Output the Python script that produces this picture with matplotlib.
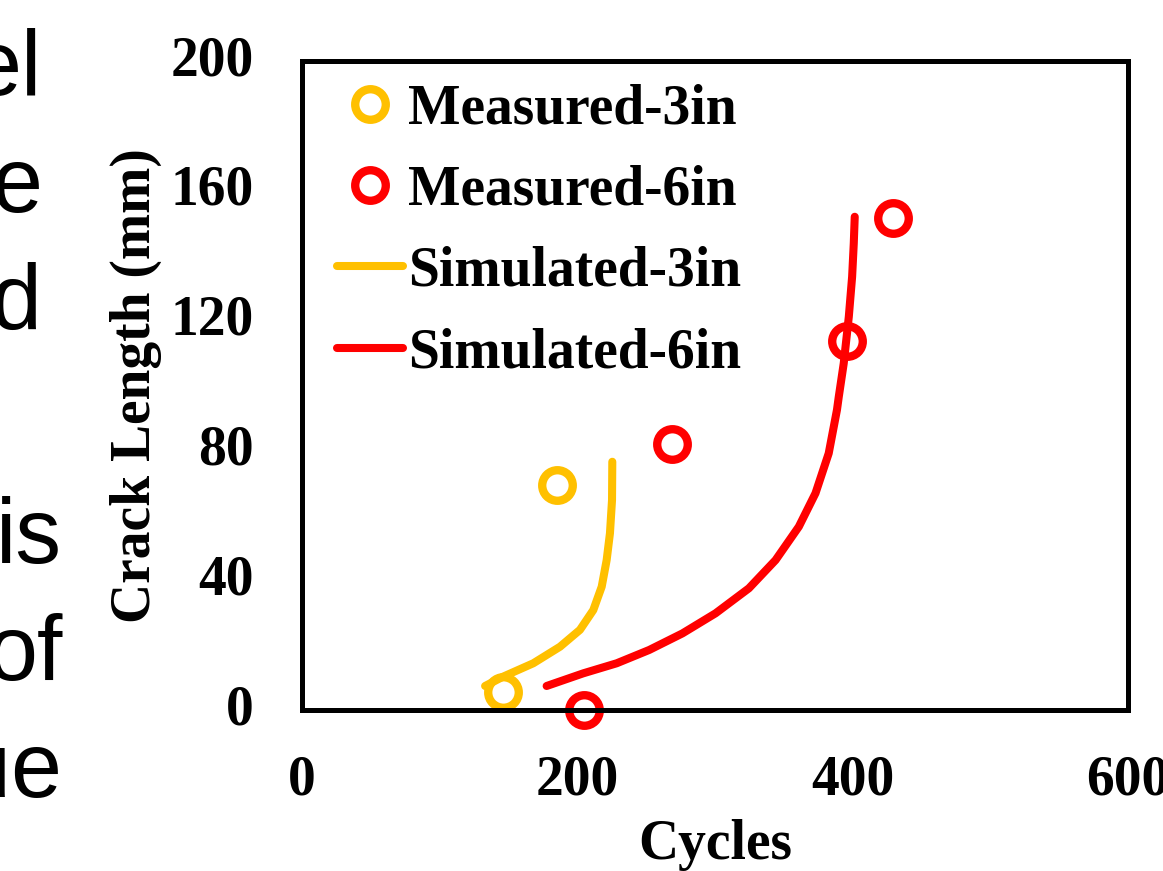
import numpy as np
import matplotlib
matplotlib.use("Agg")
import matplotlib.pyplot as plt

# measured crack length (mm) vs cycles
meas_3in_cycles = [146, 185]
meas_3in_crack = [5.5, 69.3]
meas_6in_cycles = [205, 269, 395.6, 429.5]
meas_6in_crack = [0, 82, 113.7, 151.7]

# simulated curves
sim_3in_cycles = [133, 146.2, 168, 187.4, 201.9, 211.6, 217.7, 221.3, 223.7, 225.2, 225.4]
sim_3in_crack = [7.4, 10.3, 14.4, 19.5, 24.7, 30.8, 38.0, 46.2, 54.5, 64.7, 76.5]
sim_6in_cycles = [177.7, 204.3, 228.6, 252.2, 276.3, 300.4, 324.6, 344.0, 360.9, 373.0,
                  382.6, 388.6, 389.9, 393.5, 397.2, 399.6, 400.8, 401.5]
sim_6in_crack = [7.4, 11.3, 14.4, 18.5, 23.6, 29.8, 37.5, 46.2, 56.5, 66.8,
                 79.1, 92.5, 96.5, 106.8, 121.2, 133.5, 143.8, 152.0]

x_ticks = [0, 200, 400, 600]
y_ticks = [0, 40, 80, 120, 160, 200]

# slide text cut off at the left edge
side_words = ["el", "e", "d", "", "is", "of", "ue"]
side_right_px = [41, 42, 41, 0, 62, 63, 62]

YELLOW = "#FFC000"
RED = "#FF0000"
W, H = 1163, 871
FS = 40

fig = plt.figure(figsize=(W / 100, H / 100), dpi=100)
ax = fig.add_axes([302 / W, 1 - 710 / H, (1128 - 302) / W, (710 - 61) / H])

serif = {"family": "Liberation Serif", "weight": "bold", "size": FS}

ax.plot(sim_3in_cycles, sim_3in_crack, color=YELLOW, lw=5.8, solid_capstyle="round",
        label="Simulated-3in", zorder=3)
ax.plot(sim_6in_cycles, sim_6in_crack, color=RED, lw=5.8, solid_capstyle="round",
        label="Simulated-6in", zorder=3)
ax.plot(meas_3in_cycles, meas_3in_crack, "o", ms=22, mfc="none", mec=YELLOW, mew=6,
        label="Measured-3in", clip_on=False, zorder=2)
ax.plot(meas_6in_cycles, meas_6in_crack, "o", ms=22, mfc="none", mec=RED, mew=6,
        label="Measured-6in", clip_on=False, zorder=2)

ax.set_xlim(0, 600)
ax.set_ylim(0, 200)
ax.set_xticks(x_ticks)
ax.set_yticks(y_ticks)
ax.tick_params(axis="x", length=0, pad=32)
ax.tick_params(axis="y", length=0, pad=35)
for lab in ax.get_xticklabels() + ax.get_yticklabels():
    lab.set_fontproperties(serif)
for lab in ax.get_yticklabels():
    lab.set_va("center")
for s in ax.spines.values():
    s.set_linewidth(3.6)

ax.set_xlabel("Cycles", fontdict=serif, labelpad=9)
ax.set_ylabel("Crack Length (mm)", fontdict=serif, labelpad=6)

handles, labels = ax.get_legend_handles_labels()
order = [2, 3, 0, 1]
leg = ax.legend([handles[i] for i in order], [labels[i] for i in order],
                loc="upper left", frameon=False, prop=serif,
                handlelength=1.19, handletextpad=0.09, labelspacing=0.53, numpoints=1,
                borderpad=0, borderaxespad=0, bbox_to_anchor=(35 / 826, 1 - 22 / 649))

for i, (w, xr) in enumerate(zip(side_words, side_right_px)):
    if not w:
        continue
    yb = 95 + 117 * i
    fig.text(xr / W, 1 - yb / H, w, ha="right", va="baseline",
             family="Liberation Sans", fontsize=66)

fig.savefig("out.png", dpi=100)
